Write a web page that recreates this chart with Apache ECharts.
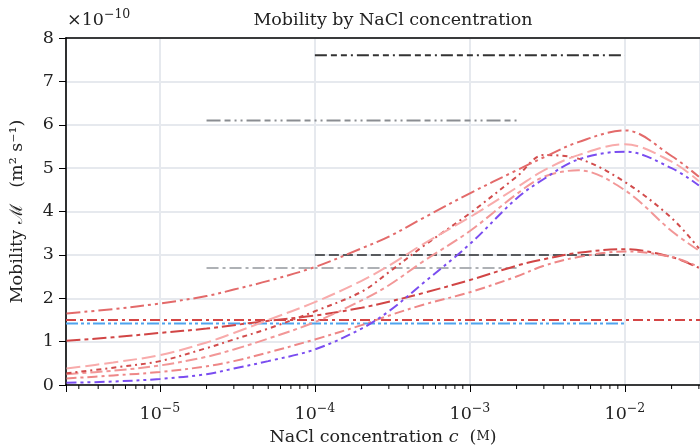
<!DOCTYPE html>
<html>
<head>
<meta charset="utf-8">
<script src="https://cdn.jsdelivr.net/npm/echarts@6/dist/echarts.min.js"></script>
<style>
  html, body { margin: 0; padding: 0; background: #fff; }
  #chart { width: 700px; height: 447px; }
</style>
</head>
<body>
<div id="chart"></div>
<script>
// NaCl concentration (M) shared by all mobility curves
const conc = [2.5e-6, 5e-6, 1e-5, 2e-5, 3e-5, 5e-5, 1e-4, 2e-4, 3e-4, 5e-4, 1e-3, 2e-3, 3e-3, 5e-3, 1e-2, 2e-2, 3e-2];

// Mobility curves, in units of 1e-10 m^2/s
const mobA = [1.65, 1.75, 1.88, 2.05, 2.2, 2.4, 2.72, 3.15, 3.42, 3.85, 4.42, 4.95, 5.25, 5.6, 5.87, 5.28, 4.8];
const mobB = [0.38, 0.52, 0.69, 0.98, 1.2, 1.5, 1.91, 2.4, 2.75, 3.25, 3.87, 4.55, 4.95, 5.3, 5.55, 5.15, 4.7];
const mobC = [0.05, 0.08, 0.14, 0.25, 0.38, 0.55, 0.82, 1.3, 1.7, 2.35, 3.25, 4.3, 4.75, 5.2, 5.38, 5.0, 4.6];
const mobD = [0.27, 0.4, 0.55, 0.85, 1.05, 1.3, 1.7, 2.15, 2.6, 3.2, 3.96, 4.8, 5.3, 5.22, 4.68, 3.85, 3.15];
const mobE = [0.25, 0.33, 0.45, 0.65, 0.82, 1.07, 1.45, 1.95, 2.3, 2.85, 3.55, 4.4, 4.8, 4.95, 4.49, 3.55, 3.1];
const mobF = [0.15, 0.22, 0.3, 0.43, 0.55, 0.75, 1.05, 1.38, 1.6, 1.85, 2.14, 2.5, 2.75, 2.95, 3.08, 2.95, 2.72];
const mobG = [1.02, 1.1, 1.2, 1.3, 1.38, 1.48, 1.6, 1.78, 1.92, 2.12, 2.42, 2.75, 2.9, 3.05, 3.13, 2.95, 2.7];

// Constant reference levels: value and concentration span
const refLevel = [7.6, 6.1, 3.0, 2.7, 1.5, 1.42];
const refFrom  = [1e-4, 2e-5, 1e-4, 2e-5, 2.48e-6, 2.48e-6];
const refTo    = [1e-2, 2e-3, 1e-2, 2e-3, 3.05e-2, 1e-2];

// Axis extents and tick positions
const xMin = 2.48e-6, xMax = 3.05e-2;
const yTicks = [0, 1, 2, 3, 4, 5, 6, 7, 8];
const minorTicks = [3e-6,4e-6,5e-6,6e-6,7e-6,8e-6,9e-6,
  2e-5,3e-5,4e-5,5e-5,6e-5,7e-5,8e-5,9e-5,
  2e-4,3e-4,4e-4,5e-4,6e-4,7e-4,8e-4,9e-4,
  2e-3,3e-3,4e-3,5e-3,6e-3,7e-3,8e-3,9e-3,
  2e-2,3e-2];

const FONT = 'DejaVu Serif';
const FS = 17.5;
const SUP = 12.5;
const INK = '#222222';

function pairs(ys) { return conc.map((c, i) => [c, ys[i]]); }

const curveStyles = [
  { data: mobG, color: '#d14545', dash: [14, 4, 4, 4] },
  { data: mobF, color: '#ee8787', dash: [10, 4, 3, 4] },
  { data: mobE, color: '#f29797', dash: [12, 4, 4, 4] },
  { data: mobD, color: '#d24c4c', dash: [5, 4, 2, 4] },
  { data: mobC, color: '#7a4df0', dash: [10, 4, 3, 4, 3, 4] },
  { data: mobB, color: '#f8abab', dash: [14, 5] },
  { data: mobA, color: '#e36a6a', dash: [14, 4, 3, 4, 3, 4] }
];

const refStyles = [
  { color: '#333333', dash: [12, 4, 6, 4, 6, 4, 2, 4] },
  { color: '#8a8d92', dash: [14, 4, 6, 4, 2, 4, 2, 4] },
  { color: '#585a5e', dash: [10, 4] },
  { color: '#aeb1b5', dash: [12, 4, 3, 4] },
  { color: '#d44545', dash: [10, 4, 3, 4] },
  { color: '#4fa3ee', dash: [12, 3, 3, 3, 3, 3] }
];

const series = [];
refLevel.forEach((y, i) => {
  series.push({
    type: 'line', silent: true, showSymbol: false, animation: false,
    data: [[refFrom[i], y], [refTo[i], y]],
    lineStyle: { color: refStyles[i].color, width: 2, type: refStyles[i].dash }
  });
});
curveStyles.forEach(s => {
  series.push({
    type: 'line', silent: true, showSymbol: false, animation: false,
    smooth: 0.35,
    data: pairs(s.data),
    lineStyle: { color: s.color, width: 2, type: s.dash }
  });
});
// minor ticks of the logarithmic concentration axis
series.push({
  type: 'custom', silent: true, animation: false, clip: false,
  data: minorTicks.map(v => [v, 0]),
  renderItem: function (params, api) {
    const p = api.coord([api.value(0), 0]);
    return {
      type: 'line',
      shape: { x1: p[0], y1: p[1], x2: p[0], y2: p[1] + 4 },
      style: { stroke: '#000', lineWidth: 1 }
    };
  }
});

function expLabel(v) {
  const l = Math.log10(v);
  const e = Math.round(l);
  if (Math.abs(l - e) > 1e-6) return '';
  return '{b|10}{sup|' + (e < 0 ? '\u2212' : '') + Math.abs(e) + '}';
}

const chart = echarts.init(document.getElementById('chart'), null, { renderer: 'canvas' });
chart.setOption({
  animation: false,
  backgroundColor: '#ffffff',
  textStyle: { fontFamily: FONT },
  title: {
    text: 'Mobility by NaCl concentration',
    left: 388, top: 6, textAlign: 'center',
    textStyle: { fontFamily: FONT, fontSize: FS, fontWeight: 'normal', color: INK }
  },
  grid: { left: 66, top: 38, right: 0, bottom: 62, containLabel: false, outerBoundsMode: 'none' },
  xAxis: [{
    type: 'log', logBase: 10, min: xMin, max: xMax,
    name: '{n|NaCl concentration }{i|c}{n|  (}{sc|M}{n|)}',
    nameLocation: 'middle', nameGap: 43,
    nameTextStyle: {
      rich: {
        n: { fontFamily: FONT, fontSize: FS, color: INK },
        i: { fontFamily: FONT, fontSize: FS, fontStyle: 'italic', color: INK },
        sc: { fontFamily: FONT, fontSize: 13, color: INK }
      }
    },
    axisLine: { show: true, lineStyle: { color: '#000', width: 1.6 } },
    axisTick: { show: true, inside: false, length: 7, lineStyle: { color: '#000', width: 1 } },
    axisLabel: {
      margin: 17, formatter: expLabel,
      rich: {
        b: { fontFamily: FONT, fontSize: FS, color: INK },
        sup: { fontFamily: FONT, fontSize: SUP, color: INK, padding: [0, 0, 11, 0] }
      }
    },
    splitLine: { show: true, lineStyle: { color: '#e6e9ee', width: 2 } },
    minorTick: { show: false }
  }, {
    type: 'log', logBase: 10, min: xMin, max: xMax, position: 'top',
    axisLine: { show: true, lineStyle: { color: '#000', width: 1.6 } },
    axisTick: { show: false }, axisLabel: { show: false }, splitLine: { show: false }
  }],
  yAxis: {
    type: 'value', min: yTicks[0], max: yTicks[yTicks.length - 1], interval: 1,
    name: 'Mobility \u2133   (m\u00b2 s\u207b\u00b9)',
    nameLocation: 'middle', nameGap: 40, nameRotate: 90,
    nameTextStyle: { fontFamily: FONT, fontSize: FS, color: INK },
    axisLine: { show: true, lineStyle: { color: '#000', width: 1.6 } },
    axisTick: { show: true, inside: false, length: 7, lineStyle: { color: '#000', width: 1 } },
    axisLabel: { margin: 12, fontFamily: FONT, fontSize: FS, color: INK, padding: [4, 0, 0, 0] },
    splitLine: { show: true, lineStyle: { color: '#e6e9ee', width: 2 } }
  },
  graphic: [{
    type: 'text', left: 67, top: 8,
    style: {
      text: '{b|\u00d710}{sup|\u221210}',
      rich: {
        b: { fontFamily: FONT, fontSize: FS, fill: INK },
        sup: { fontFamily: FONT, fontSize: SUP, fill: INK, padding: [0, 0, 11, 0] }
      }
    }
  }],
  series: series
});
</script>
</body>
</html>
